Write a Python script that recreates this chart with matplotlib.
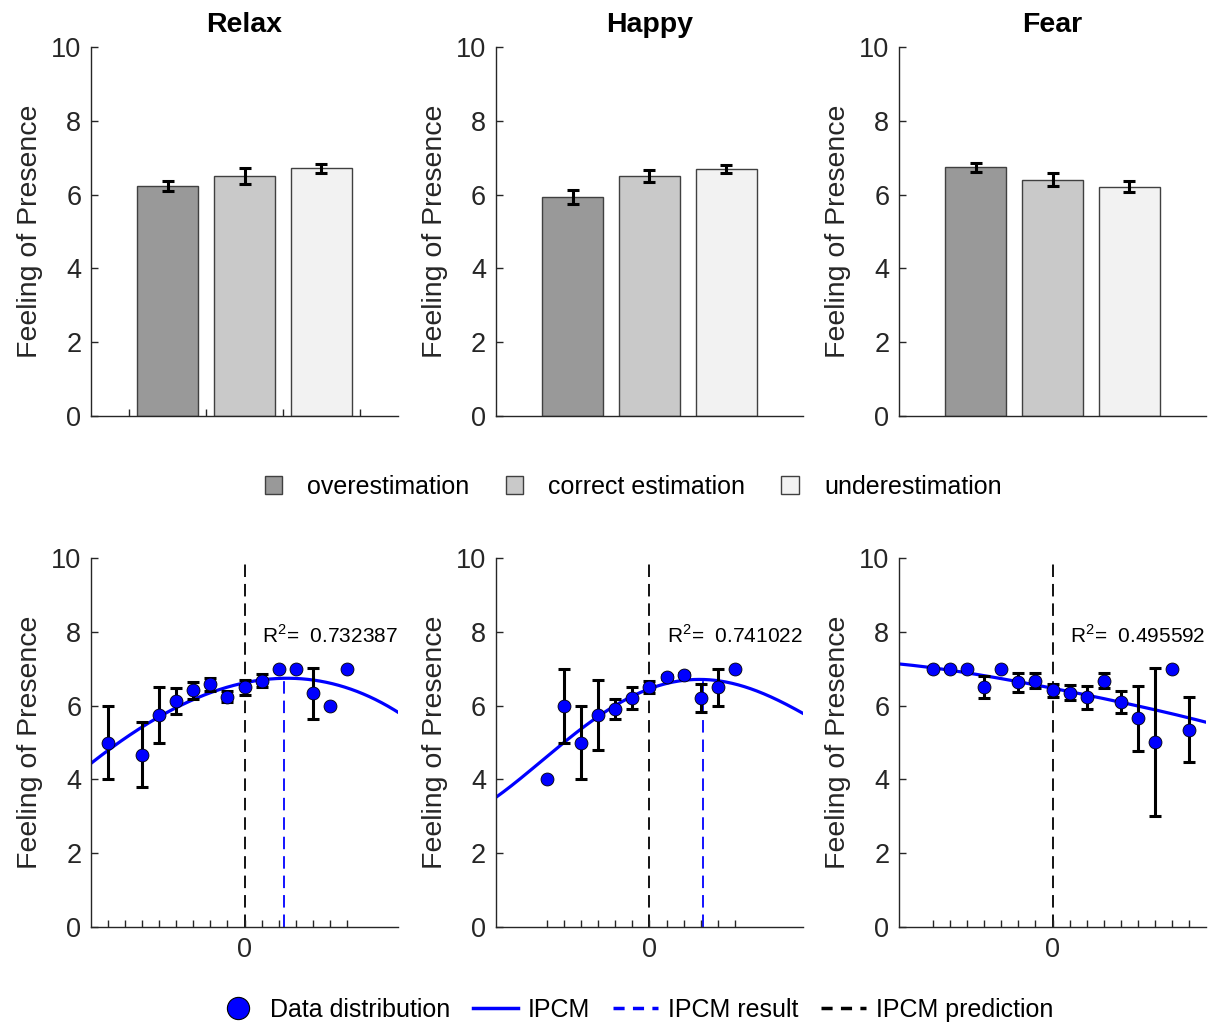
import numpy as np
import matplotlib.pyplot as plt
from matplotlib.patches import Patch
from matplotlib.lines import Line2D

plt.rcParams['font.family'] = ['Liberation Sans', 'DejaVu Sans']
plt.rcParams['mathtext.fontset'] = 'custom'
plt.rcParams['mathtext.rm'] = 'Liberation Sans'
plt.rcParams['lines.scale_dashes'] = False

# ---- data ----
emotions = ['Relax', 'Happy', 'Fear']
groups = ['overestimation', 'correct estimation', 'underestimation']
bar_colors = ['#999999', '#c9c9c9', '#f2f2f2']

bar_means = [[6.23, 6.50, 6.71],
             [5.94, 6.51, 6.69],
             [6.74, 6.41, 6.21]]
bar_errs = [[0.13, 0.21, 0.12],
            [0.19, 0.17, 0.10],
            [0.12, 0.18, 0.15]]

relax_x = [-8, -6, -5, -4, -3, -2, -1, 0, 1, 2, 3, 4, 5, 6]
relax_y = [5.0, 4.67, 5.75, 6.13, 6.41, 6.58, 6.24, 6.5, 6.68, 7.0, 7.0, 6.33, 6.0, 7.0]
relax_err = [1.0, 0.88, 0.75, 0.35, 0.23, 0.18, 0.15, 0.2, 0.18, 0, 0, 0.68, 0, 0]

happy_x = [-6, -5, -4, -3, -2, -1, 0, 1, 2, 3, 4, 5]
happy_y = [4.0, 6.0, 5.0, 5.75, 5.92, 6.2, 6.5, 6.78, 6.84, 6.21, 6.5, 7.0]
happy_err = [0, 1.0, 1.0, 0.95, 0.27, 0.3, 0.17, 0.05, 0.05, 0.38, 0.5, 0]

fear_x = [-7, -6, -5, -4, -3, -2, -1, 0, 1, 2, 3, 4, 5, 6, 7, 8]
fear_y = [7.0, 7.0, 7.0, 6.51, 7.0, 6.63, 6.68, 6.41, 6.35, 6.22, 6.68, 6.1, 5.66, 5.01, 7.0, 5.34]
fear_err = [0, 0, 0, 0.3, 0, 0.25, 0.2, 0.17, 0.2, 0.3, 0.2, 0.3, 0.88, 2.0, 0, 0.88]

# IPCM fit curves
curve_x = [-9, -7, -5, -3, -1, 1, 3, 5, 7, 9]
relax_curve = [4.43, 5.13, 5.70, 6.16, 6.49, 6.69, 6.76, 6.62, 6.28, 5.83]
happy_curve = [3.51, 4.25, 5.00, 5.71, 6.25, 6.59, 6.72, 6.61, 6.23, 5.80]
fear_curve = [7.13, 7.02, 6.89, 6.73, 6.56, 6.38, 6.19, 5.99, 5.78, 5.55]

ipcm_result = [2.3, 3.15, None]
r2_values = ['0.732387', '0.741022', '0.495592']

scatter_x = [relax_x, happy_x, fear_x]
scatter_y = [relax_y, happy_y, fear_y]
scatter_err = [relax_err, happy_err, fear_err]
curves = [relax_curve, happy_curve, fear_curve]

# ---- figure ----
fig = plt.figure(figsize=(12.27, 10.25), dpi=100)
lefts = [0.0742, 0.4042, 0.7327]
W, H = 0.2502, 0.36
axis_col = '#262626'


def style(ax):
    for s in ['top', 'right']:
        ax.spines[s].set_visible(False)
    for s in ['left', 'bottom']:
        ax.spines[s].set_color(axis_col)
        ax.spines[s].set_linewidth(1.0)
    ax.tick_params(direction='in', length=5, width=1, colors=axis_col,
                   labelsize=19.5, pad=7)
    ax.set_ylim(0, 10)
    ax.set_yticks([0, 2, 4, 6, 8, 10])
    ax.set_ylabel('Feeling of Presence', fontsize=20.5, color=axis_col, labelpad=6)


for i, emo in enumerate(emotions):
    ax = fig.add_axes([lefts[i], 0.5941, W, H])
    pos = np.arange(1, 4)
    ax.bar(pos, bar_means[i], width=0.8, color=bar_colors,
           edgecolor='#404040', linewidth=1.0, zorder=2)
    ax.errorbar(pos, bar_means[i], yerr=bar_errs[i], fmt='none', ecolor='k',
                elinewidth=2.2, capsize=4, capthick=2.2, zorder=3)
    ax.set_xlim(0, 4)
    if i == 0:
        ax.set_xticks([0.5, 1.5, 2.5, 3.5])
    else:
        ax.set_xticks([1, 2, 3])
    ax.set_xticklabels([])
    style(ax)
    ax.set_title(emo, fontsize=20.5, fontweight='bold', pad=11)

for i in range(3):
    ax = fig.add_axes([lefts[i], 0.0956, W, H])
    x = np.array(scatter_x[i], dtype=float)
    y = np.array(scatter_y[i])
    e = np.array(scatter_err[i])

    ax.plot([0, 0], [0, 9.9], color='k', lw=1.3, ls=(0, (9, 5)), zorder=1)
    coef = np.polyfit(curve_x, curves[i], 4)
    if ipcm_result[i] is not None:
        ax.plot([ipcm_result[i]] * 2, [0, np.polyval(coef, ipcm_result[i])],
                color='#0000ff', lw=1.3, ls=(0, (9, 5)), zorder=1)

    xs = np.linspace(-9, 9, 300)
    ax.plot(xs, np.polyval(coef, xs), color='#0000ff', lw=2.3, zorder=2)

    m = e > 0
    ax.errorbar(x[m], y[m], yerr=e[m], fmt='none', ecolor='k',
                elinewidth=2.2, capsize=4, capthick=2.2, zorder=3)
    ax.plot(x, y, 'o', markerfacecolor='#0000ff', markeredgecolor='k',
            markeredgewidth=0.6, markersize=9.3, linestyle='none', zorder=4)

    ax.text(1.0, 7.9, r'R$^2$=  ' + r2_values[i], fontsize=15, va='center',
            ha='left', color='k')

    ax.set_xlim(-9, 9)
    ticks = list(range(int(min(x)), int(max(x)) + 1))
    ax.set_xticks(ticks)
    ax.set_xticklabels(['0' if t == 0 else '' for t in ticks])
    style(ax)

# top legend
top_handles = [Patch(facecolor=c, edgecolor='#404040', linewidth=1.0) for c in bar_colors]
fig.legend(top_handles, groups, loc='center', bbox_to_anchor=(0.516, 0.525),
           ncol=3, frameon=False, fontsize=18, handlelength=0.7, handleheight=0.7,
           handletextpad=1.0, columnspacing=1.45)

# bottom legend
bottom_handles = [
    Line2D([], [], marker='o', linestyle='none', markerfacecolor='#0000ff',
           markeredgecolor='k', markeredgewidth=0.8, markersize=16),
    Line2D([], [], color='#0000ff', lw=2.5),
    Line2D([], [], color='#0000ff', lw=2.5, ls=(0, (8, 6))),
    Line2D([], [], color='k', lw=2.5, ls=(0, (8, 6))),
]
fig.legend(bottom_handles, ['Data distribution', 'IPCM', 'IPCM result', 'IPCM prediction'],
           loc='center', bbox_to_anchor=(0.517, 0.0146), ncol=4, frameon=False,
           fontsize=18, handlelength=1.8, handletextpad=0.4, columnspacing=0.9)

fig.savefig('out.png', dpi=100, facecolor='white')
